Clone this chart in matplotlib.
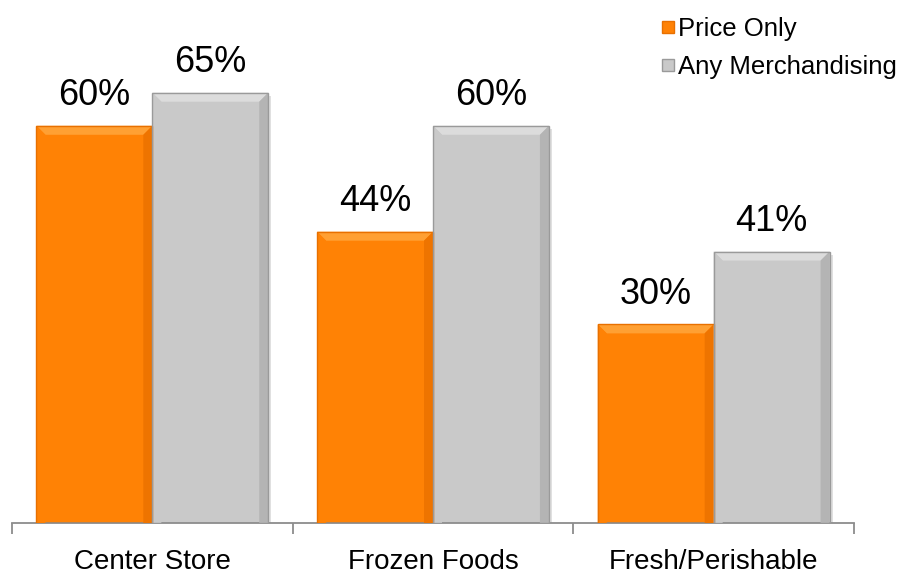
import matplotlib.pyplot as plt
from matplotlib.patches import Polygon, Rectangle
from matplotlib.lines import Line2D
import numpy as np

plt.rcParams['font.family'] = ['Liberation Sans', 'DejaVu Sans']

categories = ['Center Store', 'Frozen Foods', 'Fresh/Perishable']
price_only = [60, 44, 30]
any_merch = [65, 60, 41]
series_names = ['Price Only', 'Any Merchandising']

orange = '#FF8205'
gray = '#C9C9C9'

fig = plt.figure(figsize=(9.04, 5.84), dpi=100)
ax = fig.add_axes([12 / 904, 61 / 584, 842 / 904, 523 / 584])

x = np.arange(len(categories))
w = 0.413
ax.set_xlim(-0.5, len(categories) - 0.5)
ax.set_ylim(0, 79)

px_x = 842 / 3.0       # pixels per x unit
px_y = 523 / 79.0      # pixels per y unit


def bevel(bar, base, light, dark, edge):
    x0, y0 = bar.get_x(), bar.get_y()
    bw, bh = bar.get_width(), bar.get_height()
    b = 9
    dx, dy = b / px_x, b / px_y
    x1, y1 = x0 + bw, y0 + bh
    # drop shadow
    ax.add_patch(Rectangle((x0 + 3 / px_x, y0 - 3 / px_y), bw, bh,
                           facecolor='black', alpha=0.12, lw=0, zorder=1))
    bar.set_zorder(2)
    top = [(x0, y1), (x1, y1), (x1 - dx, y1 - dy), (x0 + dx, y1 - dy)]
    left = [(x0, y0), (x0, y1), (x0 + dx, y1 - dy), (x0 + dx, y0)]
    right = [(x1, y0), (x1, y1), (x1 - dx, y1 - dy), (x1 - dx, y0)]
    ax.add_patch(Polygon(top, closed=True, facecolor=light, lw=0, zorder=3))
    ax.add_patch(Polygon(left, closed=True, facecolor=base, lw=0, zorder=3))
    ax.add_patch(Polygon(right, closed=True, facecolor=dark, lw=0, zorder=3))
    ax.add_patch(Rectangle((x0, y0), bw, bh, facecolor='none',
                           edgecolor=edge, lw=1.0, zorder=4))


bars1 = ax.bar(x - w / 2, price_only, w, color=orange, lw=0)
bars2 = ax.bar(x + w / 2, any_merch, w, color=gray, lw=0)

for b in bars1:
    bevel(b, orange, '#FFA033', '#EE7400', '#E87000')
for b in bars2:
    bevel(b, gray, '#DCDCDC', '#B4B4B4', '#9A9A9A')

for bars, vals in ((bars1, price_only), (bars2, any_merch)):
    for b, v in zip(bars, vals):
        ax.annotate(f'{v}%', (b.get_x() + b.get_width() / 2, v),
                    xytext=(0, 9), textcoords='offset points',
                    ha='center', va='bottom', fontsize=26, color='black')

for s in ('top', 'left', 'right'):
    ax.spines[s].set_visible(False)
ax.spines['bottom'].set_color('#8C8C8C')
ax.spines['bottom'].set_linewidth(1.3)
ax.set_yticks([])
ax.set_xticks(x)
ax.set_xticklabels(categories, fontsize=20)
ax.tick_params(axis='x', which='major', length=0, pad=19)
ax.set_xticks(np.arange(len(categories) + 1) - 0.5, minor=True)
ax.tick_params(axis='x', which='minor', length=8, width=1.3, color='#8C8C8C')

handles = [Line2D([], [], marker='s', ls='', markersize=9,
                  markerfacecolor=orange, markeredgecolor='#E87000'),
           Line2D([], [], marker='s', ls='', markersize=9,
                  markerfacecolor=gray, markeredgecolor='#9A9A9A')]
fig.legend(handles, series_names, loc='upper left',
           bbox_to_anchor=(660 / 904, 1 - 17 / 584), frameon=False,
           fontsize=18.5, handlelength=0.6, handletextpad=0.1,
           labelspacing=0.55, borderpad=0, borderaxespad=0)

fig.savefig('out.png', dpi=100)
